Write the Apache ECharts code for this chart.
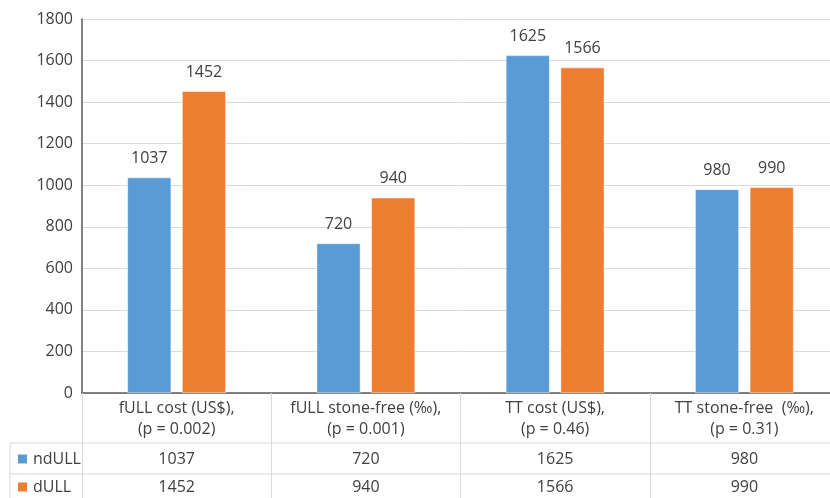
<!DOCTYPE html>
<html>
<head>
<meta charset="utf-8">
<script src="https://cdn.jsdelivr.net/npm/echarts@6/dist/echarts.min.js"></script>
<style>
html,body{margin:0;padding:0;background:#fff;overflow:hidden;width:830px;height:498px;}
#chart{width:839px;height:498px;}
</style>
</head>
<body>
<div id="chart"></div>
<script>
var categories = [
  'fULL cost (US$),\n(p = 0.002)',
  'fULL stone-free (‰),\n(p = 0.001)',
  'TT cost (US$),\n(p = 0.46)',
  'TT stone-free  (‰),\n(p = 0.31)'
];
var seriesNames = ['ndULL', 'dULL'];
var ndULL = [1037, 720, 1625, 980];
var dULL = [1452, 940, 1566, 990];
var yTicks = [0, 200, 400, 600, 800, 1000, 1200, 1400, 1600, 1800];

var FONT = '"Open Sans", "Noto Sans", sans-serif';
var TXT = '#404040';
var chart = echarts.init(document.getElementById('chart'), null, {renderer: 'canvas'});

function valueAxis(arr, offset) {
  return {
    type: 'category',
    data: categories,
    position: 'bottom',
    offset: offset,
    gridIndex: 0,
    axisLine: {show: false},
    axisTick: {show: false},
    splitLine: {show: false},
    axisLabel: {
      margin: 0,
      fontFamily: FONT, fontSize: 16, color: TXT, lineHeight: 16,
      formatter: function (v, i) { return String(arr[i]); }
    }
  };
}

var option = {
  animation: false,
  backgroundColor: '#ffffff',
  grid: {left: 82, top: 19, bottom: 105, right: 0, containLabel: false},
  legend: [
    {
      data: [seriesNames[0]], left: 16, top: 451, padding: 0,
      icon: 'rect', itemWidth: 11, itemHeight: 11, itemGap: 5,
      textStyle: {fontFamily: FONT, fontSize: 16, color: TXT}
    },
    {
      data: [seriesNames[1]], left: 16, top: 479, padding: 0,
      icon: 'rect', itemWidth: 11, itemHeight: 11, itemGap: 5,
      textStyle: {fontFamily: FONT, fontSize: 16, color: TXT}
    }
  ],
  xAxis: [
    {
      type: 'category',
      data: categories,
      position: 'bottom',
      axisLine: {show: true, lineStyle: {color: '#595959', width: 1.5}},
      axisTick: {show: true, length: 110, alignWithLabel: false, lineStyle: {color: '#d9d9d9', width: 1}},
      splitLine: {show: false},
      axisLabel: {
        margin: 5,
        fontFamily: FONT, fontSize: 16, color: TXT, lineHeight: 21,
        interval: 0
      }
    },
    valueAxis(ndULL, 58),
    valueAxis(dULL, 86)
  ],
  yAxis: {
    type: 'value',
    min: yTicks[0],
    max: yTicks[yTicks.length - 1],
    interval: yTicks[1] - yTicks[0],
    axisLine: {show: true, lineStyle: {color: '#595959', width: 1.5}},
    axisTick: {show: false},
    splitLine: {show: true, lineStyle: {color: '#d9d9d9', width: 1}},
    axisLabel: {margin: 9, fontFamily: FONT, fontSize: 16, color: TXT,
      formatter: function (v) { return String(v); }}
  },
  series: [
    {
      name: seriesNames[0], type: 'bar', data: ndULL,
      barGap: '25%', barCategoryGap: '48%',
      itemStyle: {color: '#5B9BD5', borderColor: '#ffffff', borderWidth: 0.5},
      label: {show: true, position: 'top', distance: 11, fontFamily: FONT, fontSize: 16, color: TXT}
    },
    {
      name: seriesNames[1], type: 'bar', data: dULL,
      barGap: '25%', barCategoryGap: '48%',
      itemStyle: {color: '#ED7D31', borderColor: '#ffffff', borderWidth: 0.5},
      label: {show: true, position: 'top', distance: 11, fontFamily: FONT, fontSize: 16, color: TXT}
    }
  ],
  graphic: [
    {type: 'line', shape: {x1: 10, y1: 443, x2: 845, y2: 443}, style: {stroke: '#d9d9d9', lineWidth: 1}, silent: true},
    {type: 'line', shape: {x1: 10, y1: 474, x2: 845, y2: 474}, style: {stroke: '#d9d9d9', lineWidth: 1}, silent: true},
    {type: 'line', shape: {x1: 10, y1: 443, x2: 10, y2: 500}, style: {stroke: '#d9d9d9', lineWidth: 1}, silent: true}
  ]
};
chart.setOption(option);
</script>
</body>
</html>
